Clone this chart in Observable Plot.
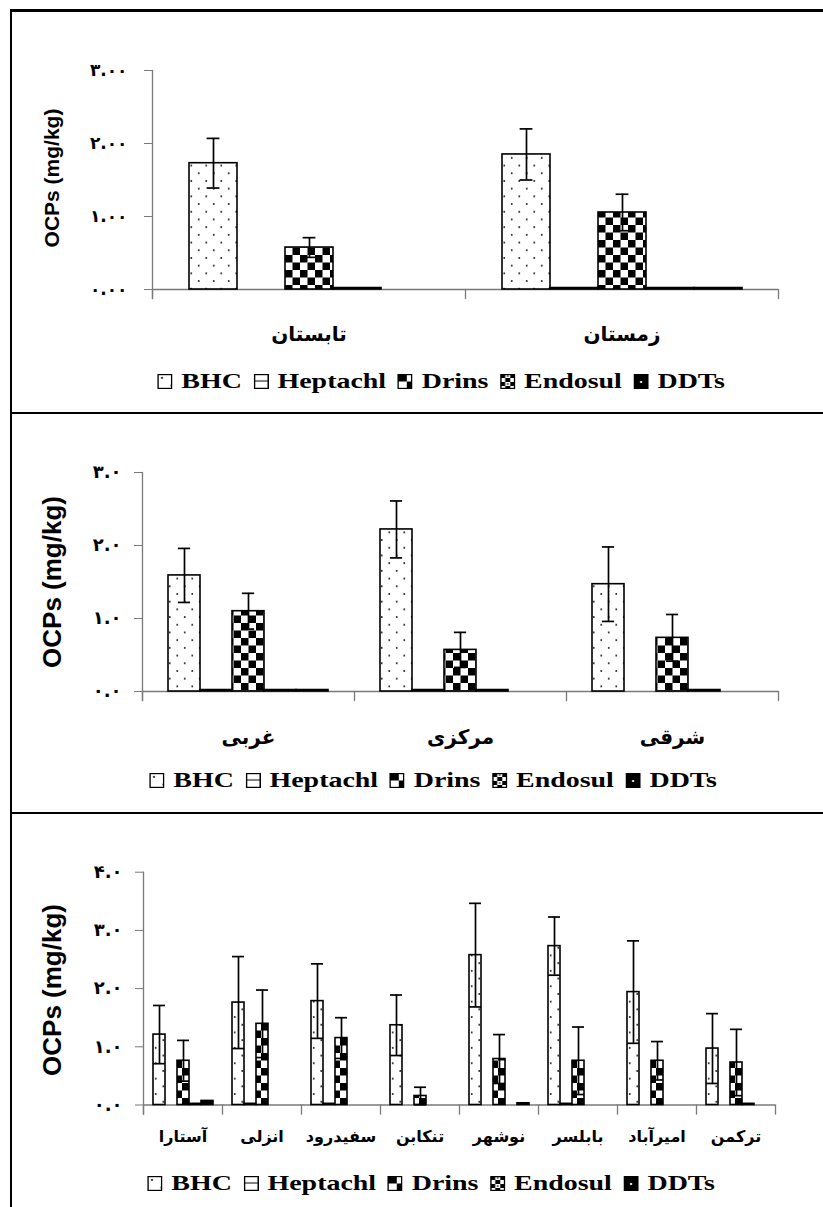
<!DOCTYPE html>
<html>
<head>
<meta charset="utf-8">
<script src="https://cdn.jsdelivr.net/npm/d3@7"></script>
<script src="https://cdn.jsdelivr.net/npm/@observablehq/plot@0.6"></script>
<style>
  html, body { margin: 0; padding: 0; background: #fff; }
  #page { position: relative; width: 823px; height: 1207px; overflow: hidden; background: #fff; }
  .rule-h { position: absolute; left: 10px; right: 0; background: #000; }
  .rule-v { position: absolute; left: 10px; top: 9px; bottom: 0; width: 2px; background: #000; }
  .panel-svg { position: absolute; left: 0; }
  .ytitle {
    position: absolute; white-space: nowrap;
    font-family: "Liberation Sans", Arial, sans-serif; font-weight: bold; color: #000;
    transform: translate(-50%, -50%) rotate(-90deg);
  }
  .legend {
    position: absolute; display: flex; align-items: center; white-space: nowrap;
    font-family: "Liberation Serif", "Times New Roman", serif; font-weight: bold; font-size: 22px; color: #000;
    transform: translate(-50%, -50%) scaleX(1.27);
  }
  .legend .item { display: flex; align-items: center; margin-right: 9px; }
  .legend .item:last-child { margin-right: 0; }
  .legend svg { margin-right: 7px; display: block; }
</style>
</head>
<body>
<div id="page">
  <svg width="0" height="0" style="position:absolute">
    <defs>
      <pattern id="pat-bhc" patternUnits="userSpaceOnUse" width="15" height="15.4">
        <rect width="15" height="15.4" fill="#fff"/>
        <circle cx="3.75" cy="3.85" r="1" fill="#222"/>
        <circle cx="11.25" cy="11.55" r="1" fill="#222"/>
      </pattern>
      <pattern id="pat-hep" patternUnits="userSpaceOnUse" width="8" height="7.5">
        <rect width="8" height="7.5" fill="#fff"/>
        <rect y="6.5" width="8" height="1.2" fill="#000"/>
      </pattern>
      <pattern id="pat-drins" patternUnits="userSpaceOnUse" width="15" height="15">
        <rect width="15" height="15" fill="#fff"/>
        <rect width="7.5" height="7.5" fill="#000"/>
        <rect x="7.5" y="7.5" width="7.5" height="7.5" fill="#000"/>
      </pattern>
      <pattern id="pat-endo" patternUnits="userSpaceOnUse" width="8" height="8">
        <rect width="8" height="8" fill="#fff"/>
        <rect width="4" height="4" fill="#000"/>
        <rect x="4" y="4" width="4" height="4" fill="#000"/>
        <circle cx="6" cy="2" r="0.8" fill="#000"/>
      </pattern>
      <pattern id="pat-ddt" patternUnits="userSpaceOnUse" width="15" height="15">
        <rect width="15" height="15" fill="#000"/>
        <circle cx="6" cy="8" r="1" fill="#fff"/>
      </pattern>
    </defs>
  </svg>
  <div class="rule-h" style="top:9px;height:3px"></div>
  <div class="rule-v"></div>
  <div class="rule-h" style="top:412px;height:2px"></div>
  <div class="rule-h" style="top:812px;height:2px"></div>
</div>
<script>
// Series shown in every panel, with their fill patterns
const seriesNames = ["BHC", "Heptachl", "Drins", "Endosul", "DDTs"];
const seriesFills = ["url(#pat-bhc)", "url(#pat-hep)", "url(#pat-drins)", "url(#pat-endo)", "url(#pat-ddt)"];
const yTitle = "OCPs (mg/kg)";

// Panel 1: seasons (mg/kg)
const seasons = ["تابستان", "زمستان"];
const seasonBHC = [1.73, 1.85];
const seasonBHCErr = [0.34, 0.35];
const seasonHeptachl = [0, 0.02];
const seasonDrins = [0.575, 1.055];
const seasonDrinsErr = [0.135, 0.25];
const seasonEndosul = [0.02, 0.02];
const seasonDDTs = [0, 0.02];
const seasonTicks = [0, 1, 2, 3];
const seasonTickLabels = ["۰.۰۰", "۱.۰۰", "۲.۰۰", "۳.۰۰"];

// Panel 2: regions (mg/kg)
const regions = ["غربی", "مرکزی", "شرقی"];
const regionBHC = [1.59, 2.22, 1.47];
const regionBHCErr = [0.37, 0.39, 0.51];
const regionHeptachl = [0.02, 0.02, 0];
const regionDrins = [1.10, 0.57, 0.735];
const regionDrinsErr = [0.245, 0.24, 0.32];
const regionEndosul = [0.02, 0.02, 0.02];
const regionDDTs = [0.02, 0, 0];
const regionTicks = [0, 1, 2, 3];
const regionTickLabels = ["۰.۰", "۱.۰", "۲.۰", "۳.۰"];

// Panel 3: stations (mg/kg)
const stations = ["آستارا", "انزلی", "سفیدرود", "تنکابن", "نوشهر", "بابلسر", "امیرآباد", "ترکمن"];
const stationBHC = [1.21, 1.76, 1.785, 1.37, 2.575, 2.73, 1.94, 0.97];
const stationBHCErr = [0.50, 0.79, 0.64, 0.52, 0.89, 0.50, 0.88, 0.60];
const stationHeptachl = [0, 0.02, 0.02, 0, 0, 0.02, 0, 0];
const stationDrins = [0.76, 1.395, 1.15, 0.155, 0.79, 0.76, 0.76, 0.73];
const stationDrinsErr = [0.35, 0.58, 0.35, 0.15, 0.42, 0.58, 0.33, 0.57];
const stationEndosul = [0.02, 0, 0, 0, 0, 0, 0, 0.02];
const stationDDTs = [0.07, 0, 0, 0, 0.03, 0, 0, 0];
const stationTicks = [0, 1, 2, 3, 4];
const stationTickLabels = ["۰.۰", "۱.۰", "۲.۰", "۳.۰", "۴.۰"];

const axisGray = "#7a7a7a";
const arabicFont = "'DejaVu Sans', sans-serif";
const page = document.getElementById("page");

function drawPanel(p) {
  const rows = [];
  p.categories.forEach((cat, i) => {
    seriesNames.forEach((s, j) => {
      const err = p.errors[j] ? p.errors[j][i] : null;
      rows.push({cat, series: s, value: p.values[j][i], err});
    });
  });
  const bars = rows.filter(d => d.value > 0);
  const errs = rows.filter(d => d.err != null && d.value > 0);
  const innerH = p.height - p.marginTop - p.marginBottom;
  const common = {fx: "cat", x: "series"};

  const chart = Plot.plot({
    width: 823,
    height: p.height,
    marginTop: p.marginTop,
    marginBottom: p.marginBottom,
    marginLeft: p.marginLeft,
    marginRight: p.marginRight,
    style: {background: "transparent", fontFamily: arabicFont, color: "#000"},
    fx: {domain: p.categories, padding: 0, label: null},
    x: {domain: seriesNames, paddingInner: 0, paddingOuter: p.outer, axis: null},
    y: {domain: p.yDomain, label: null},
    color: {domain: seriesNames, range: seriesFills},
    marks: [
      Plot.ruleY([0], {stroke: axisGray, strokeWidth: 1.3}),
      Plot.frame({anchor: "left", facetAnchor: "left", stroke: axisGray, strokeWidth: 1.3, insetBottom: -9}),
      Plot.frame({anchor: "left", stroke: axisGray, strokeWidth: 1.3, insetTop: innerH, insetBottom: -9}),
      Plot.frame({anchor: "right", facetAnchor: "right", stroke: axisGray, strokeWidth: 1.3, insetTop: innerH, insetBottom: -9}),
      Plot.axisY({
        ticks: p.ticks,
        tickFormat: d => p.tickLabels[p.ticks.indexOf(d)],
        tickSize: 8, tickPadding: p.tickPadding,
        stroke: axisGray, fill: "#000",
        fontSize: p.tickFont, fontWeight: "bold", fontFamily: arabicFont,
        label: null
      }),
      Plot.axisFx({
        anchor: "bottom", tickSize: 0, tickPadding: p.catPadding,
        fontSize: p.catFont, fontWeight: "bold", fontFamily: arabicFont, fill: "#000",
        label: null
      }),
      Plot.barY(bars, {...common, y: "value", fill: "series", stroke: "#000", strokeWidth: 1.6}),
      Plot.ruleX(errs, {...common, y1: d => d.value - d.err, y2: d => d.value + d.err, stroke: "#000", strokeWidth: 1.7}),
      Plot.tickY(errs, {...common, y: d => d.value + d.err, stroke: "#000", strokeWidth: 1.7, insetLeft: p.capInset, insetRight: p.capInset}),
      Plot.tickY(errs, {...common, y: d => d.value - d.err, stroke: "#000", strokeWidth: 1.7, insetLeft: p.capInset, insetRight: p.capInset})
    ]
  });
  chart.classList.add("panel-svg");
  chart.style.top = p.top + "px";
  page.appendChild(chart);

  // rotated y-axis title
  const title = document.createElement("div");
  title.className = "ytitle";
  title.textContent = yTitle;
  title.style.left = p.titleX + "px";
  title.style.top = p.titleY + "px";
  title.style.fontSize = p.titleFont + "px";
  page.appendChild(title);

  // legend row
  const legend = document.createElement("div");
  legend.className = "legend";
  legend.style.left = p.legendX + "px";
  legend.style.top = p.legendY + "px";
  seriesNames.forEach((s, j) => {
    const item = document.createElement("div");
    item.className = "item";
    item.innerHTML =
      `<svg width="12" height="15"><rect x="0.6" y="0.6" width="10.8" height="13.8" fill="${seriesFills[j]}" stroke="#000" stroke-width="1.2"/></svg>` +
      `<span>${s}</span>`;
    legend.appendChild(item);
  });
  page.appendChild(legend);
}

drawPanel({
  categories: seasons,
  values: [seasonBHC, seasonHeptachl, seasonDrins, seasonEndosul, seasonDDTs],
  errors: [seasonBHCErr, null, seasonDrinsErr, null, null],
  yDomain: [0, 3], ticks: seasonTicks, tickLabels: seasonTickLabels,
  top: 0, height: 360, marginTop: 70, marginBottom: 71, marginLeft: 152, marginRight: 45,
  outer: 0.76, capInset: 17.6, tickPadding: 17, tickFont: 17,
  catPadding: 37, catFont: 20,
  titleX: 52, titleY: 178, titleFont: 21,
  legendX: 441, legendY: 381
});

drawPanel({
  categories: regions,
  values: [regionBHC, regionHeptachl, regionDrins, regionEndosul, regionDDTs],
  errors: [regionBHCErr, null, regionDrinsErr, null, null],
  yDomain: [0, 3], ticks: regionTicks, tickLabels: regionTickLabels,
  top: 413, height: 340, marginTop: 59, marginBottom: 62, marginLeft: 141, marginRight: 45,
  outer: 0.76, capInset: 9.9, tickPadding: 13, tickFont: 18,
  catPadding: 38, catFont: 20,
  titleX: 52, titleY: 582, titleFont: 26,
  legendX: 433, legendY: 780
});

drawPanel({
  categories: stations,
  values: [stationBHC, stationHeptachl, stationDrins, stationEndosul, stationDDTs],
  errors: [stationBHCErr, null, stationDrinsErr, null, null],
  yDomain: [0, 4], ticks: stationTicks, tickLabels: stationTickLabels,
  top: 813, height: 345, marginTop: 58.7, marginBottom: 53.5, marginLeft: 141, marginRight: 46,
  outer: 0.70, capInset: 0, tickPadding: 13, tickFont: 18,
  catPadding: 26, catFont: 16,
  titleX: 52, titleY: 990, titleFont: 26,
  legendX: 431, legendY: 1183
});
</script>
</body>
</html>
